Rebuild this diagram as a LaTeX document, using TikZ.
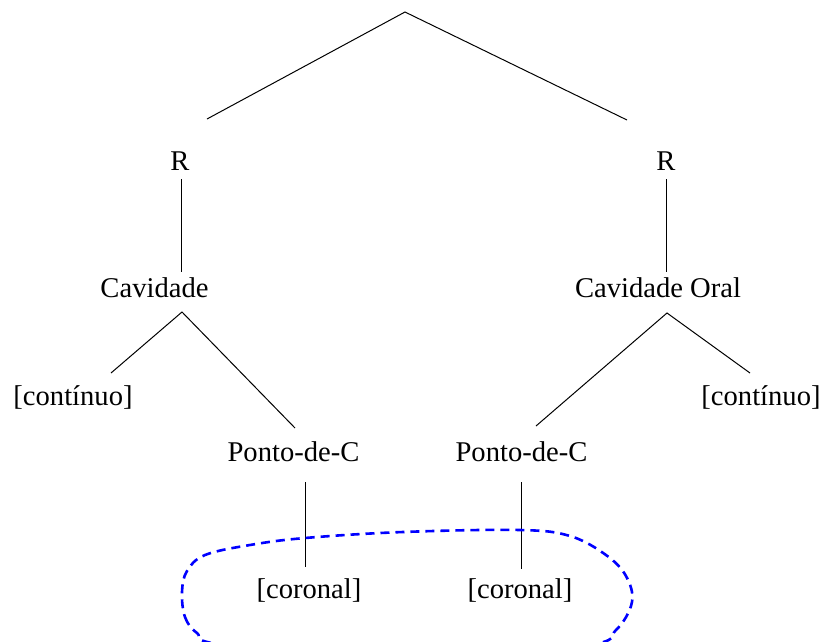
\documentclass[tikz,border=0pt]{standalone}
\usepackage{fontspec}
\setmainfont{Liberation Serif}
\begin{document}
\begin{tikzpicture}[x=1pt,y=-1pt,
  lbl/.style={anchor=base,inner sep=0pt,font=\fontsize{28.6}{34}\selectfont},
  edge/.style={draw=black,line width=1pt},
  loop/.style={draw=blue,line width=2.6pt,dash pattern=on 9pt off 6pt}]
\useasboundingbox (0,0) rectangle (823,641);
% labels
\node[lbl] (R1) at (180,170) {R};
\node[lbl] (R2) at (666,170) {R};
\node[lbl] (cav) at (154.5,297) {Cavidade};
\node[lbl] (cavo) at (658,297) {Cavidade Oral};
\node[lbl] (cont1) at (73,405) {[contínuo]};
\node[lbl] (cont2) at (761,405) {[contínuo]};
\node[lbl] (pc1) at (293.5,461) {Ponto-de-C};
\node[lbl] (pc2) at (521.5,461) {Ponto-de-C};
\node[lbl] (cor1) at (309,598) {[coronal]};
\node[lbl] (cor2) at (520,598) {[coronal]};
% connector end points
\coordinate (top) at (405,12);
\coordinate (topL) at (207,119);
\coordinate (topR) at (627,120);
\coordinate (r1a) at (181.5,179);
\coordinate (r1b) at (181.5,272);
\coordinate (r2a) at (666.5,179);
\coordinate (r2b) at (666.5,272);
\coordinate (c1) at (182,312);
\coordinate (c1L) at (111,373);
\coordinate (c1R) at (295,428);
\coordinate (c2) at (667,313);
\coordinate (c2L) at (536,426);
\coordinate (c2R) at (750,373);
\coordinate (p1a) at (305,482);
\coordinate (p1b) at (305,567);
\coordinate (p2a) at (521,482);
\coordinate (p2b) at (521,569);
% connectors
\draw[edge] (topL) -- (top) -- (topR);
\draw[edge] (r1a) -- (r1b);
\draw[edge] (r2a) -- (r2b);
\draw[edge] (c1L) -- (c1) -- (c1R);
\draw[edge] (c2L) -- (c2) -- (c2R);
\draw[edge] (p1a) -- (p1b);
\draw[edge] (p2a) -- (p2b);
% dashed loop
\begin{scope}
\clip (0,0) rectangle (823,641);
\draw[loop] plot[smooth cycle,tension=0.6] coordinates {
  (182,592) (185,617) (197,633) (222,645) (400,668) (585,646) (616,630)
  (632,602) (626,576) (606,555) (570,536) (520,530) (403,532) (305,538)
  (250,545) (205,555) (187,571)};
\end{scope}
\end{tikzpicture}
\end{document}
